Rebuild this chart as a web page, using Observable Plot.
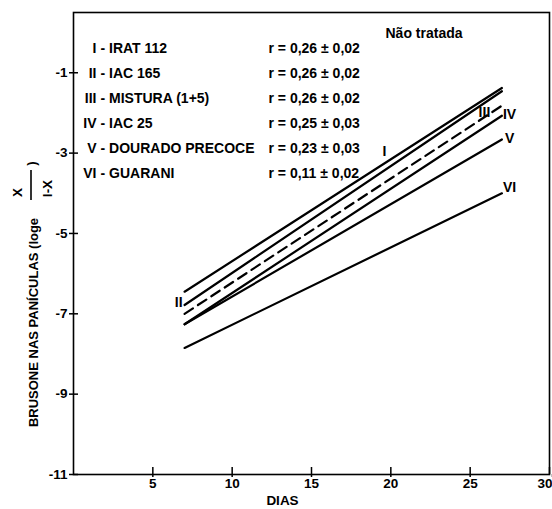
<!DOCTYPE html>
<html><head><meta charset="utf-8">
<script src="https://cdn.jsdelivr.net/npm/d3@7"></script>
<script src="https://cdn.jsdelivr.net/npm/@observablehq/plot@0.6"></script>
<style>html,body{margin:0;padding:0;background:#fff;overflow:hidden}</style>
</head><body><div id="chart"></div>
<script>
const numerals = ["I", "II", "III", "IV", "V", "VI"];
const cultivars = ["IRAT 112", "IAC 165", "MISTURA (1+5)", "IAC 25", "DOURADO PRECOCE", "GUARANI"];
const rValues = [0.26, 0.26, 0.26, 0.25, 0.23, 0.11];
const rErrors = [0.02, 0.02, 0.02, 0.03, 0.03, 0.02];
const days = [7, 27];
const startValues = [-6.45, -6.78, -7.0, -7.26, -7.26, -7.85];
const endValues = [-1.38, -1.46, -1.82, -2.07, -2.66, -4.0];
const xTicks = [5, 10, 15, 20, 25, 30];
const yTicks = [-1, -3, -5, -7, -9, -11];
const treatment = "Não tratada";
const xLabel = "DIAS";
const yLabel = "BRUSONE NAS PANÍCULAS (loge";

const W = 552, H = 509, ML = 73, MR = 3, MT = 12, MB = 35;
const FW = W - ML - MR, FH = H - MT - MB;
const fmt = v => v.toFixed(2).replace(".", ",");

const lines = numerals.flatMap((n, i) => days.map((d, j) => ({series: n, day: d, value: j === 0 ? startValues[i] : endValues[i]})));
const solid = lines.filter(d => d.series !== "III");
const dashed = lines.filter(d => d.series === "III");
const legend = numerals.map((n, i) => ({n, name: "- " + cultivars[i], r: `r = ${fmt(rValues[i])} ± ${fmt(rErrors[i])}`}));
const at = (i, t) => ({label: numerals[i], day: days[0] + t * (days[1] - days[0]), value: startValues[i] + t * (endValues[i] - startValues[i])});

const fractionBar = (index, scales, values, dims) => {
  const x = dims.marginLeft - 42, y = dims.marginTop + 158;
  return d3.create("svg:line").attr("x1", x).attr("x2", x).attr("y1", y).attr("y2", y + 30)
    .attr("stroke", "black").attr("stroke-width", 1.6).node();
};

const tl = {frameAnchor: "top-left"};
const LF = 14;
const chart = Plot.plot({
  width: W, height: H, marginLeft: ML, marginRight: MR, marginTop: MT, marginBottom: MB,
  x: {domain: [0, 30]},
  y: {domain: [-11, 0.5]},
  style: {fontFamily: "'Liberation Sans', Arial, sans-serif", fontSize: "13.5px", fontWeight: "bold", color: "black", background: "white", overflow: "hidden"},
  marks: [
    Plot.frame({stroke: "black", strokeWidth: 1.6}),
    Plot.axisX({ticks: xTicks.slice(0, -1), tickSize: 3, tickPadding: 1, label: null, tickFormat: d => String(d), stroke: "black", strokeWidth: 1.5}),
    Plot.axisX({ticks: xTicks.slice(-1), tickSize: 3, tickPadding: 1, label: null, tickFormat: d => String(d), textAnchor: "end", dx: 3, stroke: "black", strokeWidth: 1.5}),
    Plot.axisY({ticks: yTicks, tickSize: 4, tickPadding: 2, label: null, tickFormat: d => String(d), stroke: "black", strokeWidth: 1.5}),
    Plot.tickX(xTicks, {x: d => d, insetTop: FH - 7, stroke: "black", strokeWidth: 1.5}),
    Plot.tickY(yTicks, {y: d => d, insetRight: FW - 5, stroke: "black", strokeWidth: 1.5}),
    Plot.line(solid, {x: "day", y: "value", z: "series", stroke: "black", strokeWidth: 2.2}),
    Plot.line(dashed, {x: "day", y: "value", stroke: "black", strokeWidth: 2.2, strokeDasharray: "10,6"}),
    // line labels
    Plot.text([at(0, 0.63)], {x: "day", y: "value", text: "label", dy: -12, fontSize: LF}),
    Plot.text([at(1, 0)], {x: "day", y: "value", text: "label", textAnchor: "end", dx: -2, dy: -2, fontSize: LF}),
    Plot.text([at(2, 0.945)], {x: "day", y: "value", text: "label", dy: -5, fontSize: LF}),
    Plot.text([at(3, 1)], {x: "day", y: "value", text: "label", textAnchor: "start", dx: 1, dy: -1, fontSize: LF}),
    Plot.text([at(4, 1)], {x: "day", y: "value", text: "label", textAnchor: "start", dx: 3, dy: -1, fontSize: LF}),
    Plot.text([at(5, 1)], {x: "day", y: "value", text: "label", textAnchor: "start", dx: 1, dy: -6, fontSize: LF}),
    // legend
    ...legend.flatMap((d, i) => [
      Plot.text([d], {...tl, text: "n", textAnchor: "end", dx: 23, dy: 36 + 25 * i, lineAnchor: "middle", fontSize: LF}),
      Plot.text([d], {...tl, text: "name", textAnchor: "start", dx: 27, dy: 36 + 25 * i, lineAnchor: "middle", fontSize: LF}),
      Plot.text([d], {...tl, text: "r", textAnchor: "start", dx: 195, dy: 36 + 25 * i, lineAnchor: "middle", fontSize: LF})
    ]),
    Plot.text([treatment], {...tl, text: d => d, textAnchor: "start", dx: 312, dy: 21, lineAnchor: "middle", fontSize: LF}),
    // axis titles
    Plot.text([xLabel], {...tl, text: d => d, textAnchor: "middle", dx: 209, dy: 488, lineAnchor: "middle"}),
    Plot.text([yLabel], {...tl, text: d => d, rotate: -90, textAnchor: "middle", dx: -40, dy: 310, lineAnchor: "middle", fontSize: 13}),
    Plot.text(["X"], {...tl, text: d => d, rotate: -90, textAnchor: "middle", dx: -56, dy: 180, lineAnchor: "middle"}),
    Plot.text(["I-X"], {...tl, text: d => d, rotate: -90, textAnchor: "middle", dx: -26, dy: 176, lineAnchor: "middle"}),
    Plot.text([")"], {...tl, text: d => d, rotate: -90, textAnchor: "middle", dx: -42, dy: 151, lineAnchor: "middle"}),
    fractionBar
  ]
});
document.getElementById("chart").appendChild(chart);
</script>
</body></html>
